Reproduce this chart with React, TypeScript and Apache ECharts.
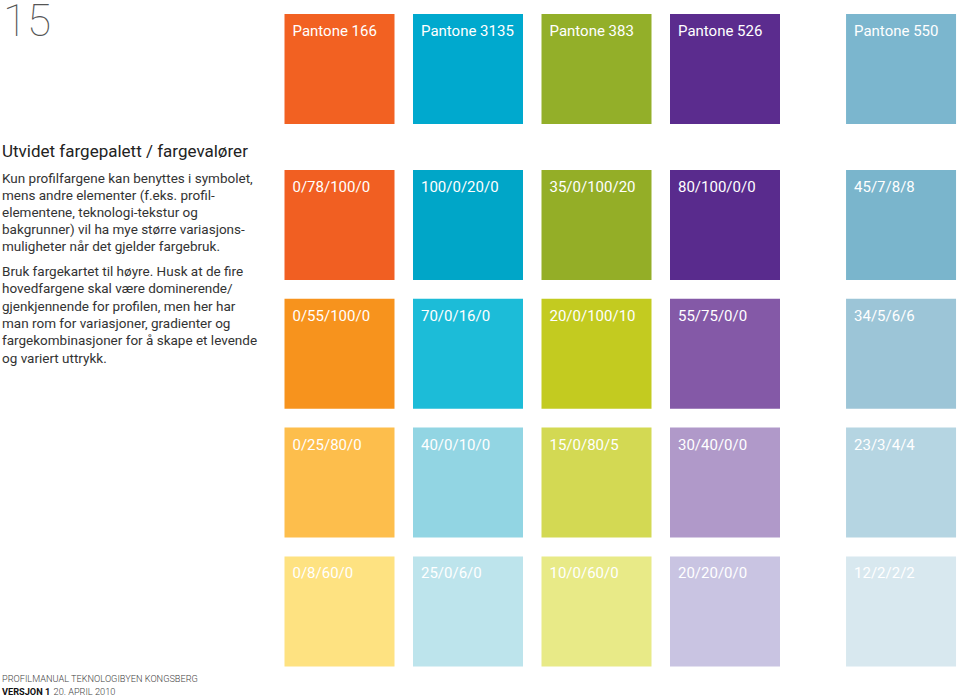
import React, { useEffect, useRef } from "react";
import * as echarts from "echarts";

// Columns: the five profile colours (Pantone)
const columns = ["Pantone 166", "Pantone 3135", "Pantone 383", "Pantone 526", "Pantone 550"];

// Rows: Pantone swatch, then CMYK tints
const row0Labels = ["Pantone 166", "Pantone 3135", "Pantone 383", "Pantone 526", "Pantone 550"];
const row0Colors = ["#F26122", "#00A9CE", "#93AF29", "#5B2C8E", "#7BB6CE"];

const row1Labels = ["0/78/100/0", "100/0/20/0", "35/0/100/20", "80/100/0/0", "45/7/8/8"];
const row1Colors = ["#F15F22", "#00A6C8", "#94AE27", "#592B8D", "#7AB5CC"];

const row2Labels = ["0/55/100/0", "70/0/16/0", "20/0/100/10", "55/75/0/0", "34/5/6/6"];
const row2Colors = ["#F7931D", "#1CBCD8", "#C3CB20", "#8459A7", "#9CC5D7"];

const row3Labels = ["0/25/80/0", "40/0/10/0", "15/0/80/5", "30/40/0/0", "23/3/4/4"];
const row3Colors = ["#FDBE4C", "#92D5E3", "#D3D953", "#B099C9", "#B5D5E2"];

const row4Labels = ["0/8/60/0", "25/0/6/0", "10/0/60/0", "20/20/0/0", "12/2/2/2"];
const row4Colors = ["#FEE281", "#BDE4EC", "#E8EA87", "#C9C4E2", "#D8E8EF"];

const rowLabels = [row0Labels, row1Labels, row2Labels, row3Labels, row4Labels];
const rowColors = [row0Colors, row1Colors, row2Colors, row3Colors, row4Colors];

const pageNumber = "15";
const heading = "Utvidet fargepalett / fargevalører";
const para1 = [
  "Kun profilfargene kan benyttes i symbolet,",
  "mens andre elementer (f.eks. profil-",
  "elementene, teknologi-tekstur og",
  "bakgrunner) vil ha mye større variasjons-",
  "muligheter når det gjelder fargebruk.",
];
const para2 = [
  "Bruk fargekartet til høyre. Husk at de fire",
  "hovedfargene skal være dominerende/",
  "gjenkjennende for profilen, men her har",
  "man rom for variasjoner, gradienter og",
  "fargekombinasjoner for å skape et levende",
  "og variert uttrykk.",
];
const footer1 = "PROFILMANUAL TEKNOLOGIBYEN KONGSBERG";
const footerBold = "VERSJON 1";
const footerDate = "20. APRIL 2010";

// layout helpers (positions in axis units)
const colPos = (c: number) => (c < 4 ? c : 4.37);
const rowPos = (r: number) => (r === 0 ? 0 : r + 0.211);
const SW = 110 / 128.5;
const SH = 110 / 128.8;

export default function App() {
  const ref = useRef<HTMLDivElement>(null);
  useEffect(() => {
    document.body.style.margin = "0";
    if (!ref.current) return;
    const chart = echarts.init(ref.current, null, { renderer: "svg" });
    const data: any[] = [];
    rowColors.forEach((cols, r) =>
      cols.forEach((color, c) => {
        data.push({ value: [c, r], name: rowLabels[r][c], color, col: columns[c] });
      })
    );
    const font = "Roboto, 'Noto Sans', sans-serif";
    chart.setOption({
      animation: false,
      backgroundColor: "#ffffff",
      grid: { left: 275.25, right: 3.7, top: 4.6, bottom: 20.2 },
      xAxis: { type: "value", min: -0.5, max: 4.8, show: false },
      yAxis: { type: "value", min: -0.5, max: 4.711, inverse: true, show: false },
      series: [
        {
          type: "custom",
          data,
          renderItem: (params: any, api: any) => {
            const c = api.value(0);
            const r = api.value(1);
            const item = data[params.dataIndex];
            const [x0, y0] = api.coord([colPos(c) - SW / 2, rowPos(r) - SH / 2]);
            const [w, h] = api.size([SW, SH]);
            return {
              type: "group",
              children: [
                {
                  type: "rect",
                  shape: { x: x0, y: y0, width: w, height: h },
                  style: { fill: item.color },
                },
                {
                  type: "text",
                  x: x0 + 8,
                  y: y0 + 17,
                  style: {
                    text: item.name,
                    fill: "#ffffff",
                    font: `15px ${font}`,
                    verticalAlign: "middle",
                    align: "left",
                  },
                },
              ],
            };
          },
        },
      ],
      graphic: [
        {
          type: "text",
          x: 3,
          y: 21,
          style: {
            text: pageNumber,
            fontSize: 44,
            fontWeight: 100,
            fontFamily: font,
            verticalAlign: "middle",
            align: "left",
            fill: "#555555",
          },
        },
        {
          type: "text",
          left: 2,
          top: 142,
          style: { text: heading, font: `17px ${font}`, fill: "#222222" },
        },
        {
          type: "text",
          left: 2,
          top: 169,
          style: { text: para1.join("\n"), font: `13.5px ${font}`, lineHeight: 17.2, fill: "#333333" },
        },
        {
          type: "text",
          left: 2,
          top: 262,
          style: { text: para2.join("\n"), font: `13.5px ${font}`, lineHeight: 17.4, fill: "#333333" },
        },
        {
          type: "text",
          left: 2,
          top: 674,
          style: { text: footer1, font: `300 9.2px ${font}`, fill: "#444444" },
        },
        {
          type: "text",
          left: 2,
          top: 685,
          style: {
            text: `{b|${footerBold}} {n|${footerDate}}`,
            rich: {
              b: { font: `bold 9.2px ${font}`, fill: "#111111" },
              n: { font: `300 9.2px ${font}`, fill: "#444444" },
            },
          },
        },
      ],
    });
    return () => chart.dispose();
  }, []);
  return <div ref={ref} style={{ width: 960, height: 696 }} />;
}
